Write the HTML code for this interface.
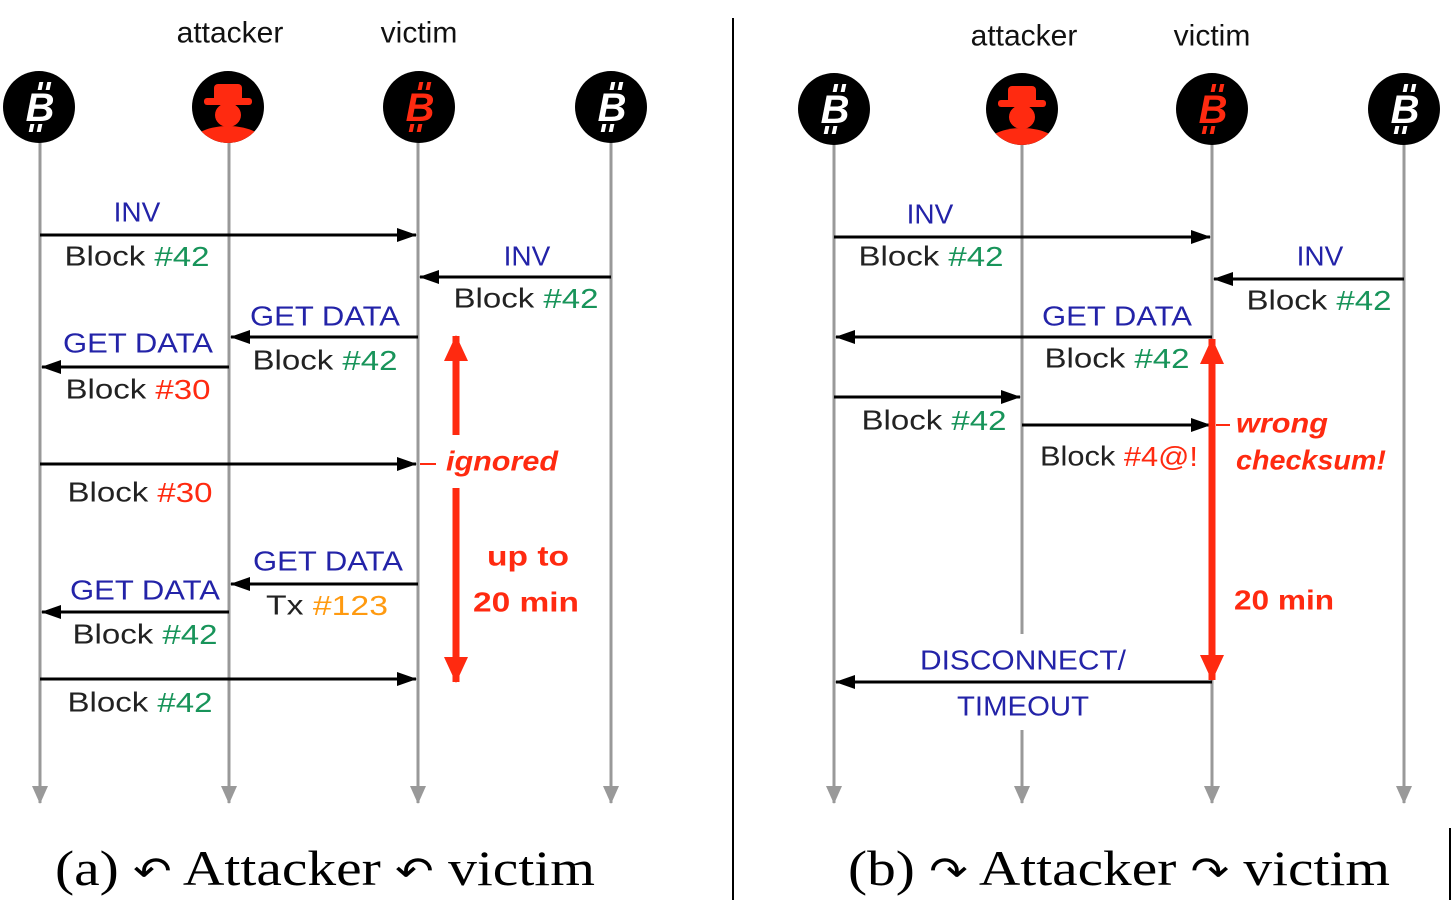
<!DOCTYPE html>
<html><head><meta charset="utf-8"><style>
html,body{margin:0;padding:0;background:#fff;}
svg{display:block;}
.t{font-family:"Liberation Sans",sans-serif;font-size:28px;dominant-baseline:central;text-anchor:middle;}
.b{fill:#2323a8}.k{fill:#222}.g{fill:#18945a}.r{fill:#ff2a10}.o{fill:#ff9a10}
.ri{font-family:"Liberation Sans",sans-serif;font-size:28px;font-style:italic;font-weight:bold;fill:#ff2a10;dominant-baseline:central;}
.rb{font-family:"Liberation Sans",sans-serif;font-size:28px;font-weight:bold;fill:#ff2a10;dominant-baseline:central;text-anchor:middle;}
.h{font-family:"Liberation Sans",sans-serif;font-size:30px;fill:#111;dominant-baseline:central;text-anchor:middle;}
.cap{font-family:"Liberation Serif",serif;font-size:50px;fill:#000;}
.ll{stroke:#999;stroke-width:3;}
.m{stroke:#000;stroke-width:3;}
</style></head><body>
<svg width="1452" height="900" viewBox="0 0 1452 900" xmlns="http://www.w3.org/2000/svg">
<defs>
<marker id="a" viewBox="0 0 20 14" refX="19" refY="7" markerWidth="20" markerHeight="14" orient="auto" markerUnits="userSpaceOnUse"><path d="M0,0 L20,7 L0,14 z" fill="#000"/></marker>
<marker id="ga" viewBox="0 0 18 16" refX="17" refY="8" markerWidth="18" markerHeight="16" orient="auto" markerUnits="userSpaceOnUse"><path d="M0,0 L18,8 L0,16 z" fill="#999"/></marker>
<marker id="ra" viewBox="0 0 26 24" refX="25" refY="12" markerWidth="26" markerHeight="24" orient="auto" markerUnits="userSpaceOnUse"><path d="M0,0 L26,12 L0,24 z" fill="#ff2a10"/></marker>
<g id="btc"><circle r="36" fill="#000"/>
<rect x="-5" y="-25" width="4" height="8" transform="skewX(-12)"/><rect x="3" y="-25" width="4" height="8" transform="skewX(-12)"/>
<rect x="-5" y="17" width="4" height="8" transform="skewX(-12)"/><rect x="3" y="17" width="4" height="8" transform="skewX(-12)"/>
<text x="1" y="14" text-anchor="middle" font-family="Liberation Sans,sans-serif" font-weight="bold" font-style="italic" font-size="40">B</text></g>
</defs>

<line x1="733" y1="18" x2="733" y2="900" stroke="#000" stroke-width="2"/>
<line x1="1450" y1="828" x2="1450" y2="900" stroke="#000" stroke-width="2"/>

<text class="h" x="230" y="33">attacker</text>
<text class="h" x="419" y="33">victim</text>
<text class="h" x="1024" y="36">attacker</text>
<text class="h" x="1212" y="36">victim</text>

<line class="ll" x1="40" y1="140" x2="40" y2="803" marker-end="url(#ga)"/>
<line class="ll" x1="229" y1="140" x2="229" y2="803" marker-end="url(#ga)"/>
<line class="ll" x1="418" y1="140" x2="418" y2="803" marker-end="url(#ga)"/>
<line class="ll" x1="611" y1="140" x2="611" y2="803" marker-end="url(#ga)"/>
<line class="ll" x1="834" y1="140" x2="834" y2="803" marker-end="url(#ga)"/>
<line class="ll" x1="1022" y1="140" x2="1022" y2="634"/>
<line class="ll" x1="1022" y1="730" x2="1022" y2="803" marker-end="url(#ga)"/>
<line class="ll" x1="1212" y1="140" x2="1212" y2="803" marker-end="url(#ga)"/>
<line class="ll" x1="1404" y1="140" x2="1404" y2="803" marker-end="url(#ga)"/>

<g fill="#fff"><use href="#btc" x="39" y="107"/></g>
<g fill="#fff"><use href="#btc" x="611" y="107"/></g>
<g fill="#ff2a10"><use href="#btc" x="419" y="107"/></g>
<g fill="#fff"><use href="#btc" x="834" y="109"/></g>
<g fill="#fff"><use href="#btc" x="1404" y="109"/></g>
<g fill="#ff2a10"><use href="#btc" x="1212" y="109"/></g>
<g>
<circle cx="228" cy="107" r="36" fill="#000"/>
<clipPath id="cp1"><circle cx="228" cy="107" r="36"/></clipPath>
<g clip-path="url(#cp1)" fill="#ff2a10">
<rect x="214" y="84" width="28" height="18" rx="4"/>
<rect x="204" y="98" width="48" height="7" rx="3"/>
<ellipse cx="228" cy="115" rx="13" ry="12"/>
<ellipse cx="228" cy="148" rx="40" ry="22"/>
</g></g>
<g transform="translate(794,2)">
<circle cx="228" cy="107" r="36" fill="#000"/>
<g clip-path="url(#cp1)" fill="#ff2a10">
<rect x="214" y="84" width="28" height="18" rx="4"/>
<rect x="204" y="98" width="48" height="7" rx="3"/>
<ellipse cx="228" cy="115" rx="13" ry="12"/>
<ellipse cx="228" cy="148" rx="40" ry="22"/>
</g></g>

<line class="m" x1="40" y1="235" x2="416" y2="235" marker-end="url(#a)"/>
<text class="t b" x="137" y="212">INV</text>
<text class="t k" x="137" y="256" textLength="145" lengthAdjust="spacingAndGlyphs">Block <tspan class="g">#42</tspan></text>
<line class="m" x1="611" y1="277" x2="420" y2="277" marker-end="url(#a)"/>
<text class="t b" x="527" y="256">INV</text>
<text class="t k" x="526" y="298" textLength="145" lengthAdjust="spacingAndGlyphs">Block <tspan class="g">#42</tspan></text>
<line class="m" x1="418" y1="337" x2="231" y2="337" marker-end="url(#a)"/>
<text class="t b" x="325" y="316" textLength="150" lengthAdjust="spacingAndGlyphs">GET DATA</text>
<text class="t k" x="325" y="360" textLength="145" lengthAdjust="spacingAndGlyphs">Block <tspan class="g">#42</tspan></text>
<line class="m" x1="229" y1="367" x2="42" y2="367" marker-end="url(#a)"/>
<text class="t b" x="138" y="343" textLength="150" lengthAdjust="spacingAndGlyphs">GET DATA</text>
<text class="t k" x="138" y="389" textLength="145" lengthAdjust="spacingAndGlyphs">Block <tspan class="r">#30</tspan></text>
<line class="m" x1="40" y1="464" x2="416" y2="464" marker-end="url(#a)"/>
<line x1="420" y1="464" x2="436" y2="464" stroke="#ff2a10" stroke-width="2"/>
<text class="ri" x="446" y="461" textLength="112" lengthAdjust="spacingAndGlyphs">ignored</text>
<text class="t k" x="140" y="492" textLength="145" lengthAdjust="spacingAndGlyphs">Block <tspan class="r">#30</tspan></text>
<line class="m" x1="418" y1="584" x2="231" y2="584" marker-end="url(#a)"/>
<text class="t b" x="328" y="561" textLength="150" lengthAdjust="spacingAndGlyphs">GET DATA</text>
<text class="t k" x="327" y="605" textLength="122" lengthAdjust="spacingAndGlyphs">Tx <tspan class="o">#123</tspan></text>
<line class="m" x1="229" y1="612" x2="42" y2="612" marker-end="url(#a)"/>
<text class="t b" x="145" y="590" textLength="150" lengthAdjust="spacingAndGlyphs">GET DATA</text>
<text class="t k" x="145" y="634" textLength="145" lengthAdjust="spacingAndGlyphs">Block <tspan class="g">#42</tspan></text>
<line class="m" x1="40" y1="679" x2="416" y2="679" marker-end="url(#a)"/>
<text class="t k" x="140" y="702" textLength="145" lengthAdjust="spacingAndGlyphs">Block <tspan class="g">#42</tspan></text>

<line x1="456" y1="435" x2="456" y2="336" stroke="#ff2a10" stroke-width="7" marker-end="url(#ra)"/>
<line x1="456" y1="488" x2="456" y2="682" stroke="#ff2a10" stroke-width="7" marker-end="url(#ra)"/>
<text class="rb" x="528" y="556" textLength="82" lengthAdjust="spacingAndGlyphs">up to</text>
<text class="rb" x="526" y="602" textLength="106" lengthAdjust="spacingAndGlyphs">20 min</text>

<line class="m" x1="834" y1="237" x2="1210" y2="237" marker-end="url(#a)"/>
<text class="t b" x="930" y="214">INV</text>
<text class="t k" x="931" y="256" textLength="145" lengthAdjust="spacingAndGlyphs">Block <tspan class="g">#42</tspan></text>
<line class="m" x1="1404" y1="279" x2="1214" y2="279" marker-end="url(#a)"/>
<text class="t b" x="1320" y="256">INV</text>
<text class="t k" x="1319" y="300" textLength="145" lengthAdjust="spacingAndGlyphs">Block <tspan class="g">#42</tspan></text>
<line class="m" x1="1212" y1="337" x2="836" y2="337" marker-end="url(#a)"/>
<text class="t b" x="1117" y="316" textLength="150" lengthAdjust="spacingAndGlyphs">GET DATA</text>
<text class="t k" x="1117" y="358" textLength="145" lengthAdjust="spacingAndGlyphs">Block <tspan class="g">#42</tspan></text>
<line class="m" x1="834" y1="397" x2="1020" y2="397" marker-end="url(#a)"/>
<text class="t k" x="934" y="420" textLength="145" lengthAdjust="spacingAndGlyphs">Block <tspan class="g">#42</tspan></text>
<line class="m" x1="1022" y1="425" x2="1210" y2="425" marker-end="url(#a)"/>
<text class="t k" x="1119" y="456" textLength="158" lengthAdjust="spacingAndGlyphs">Block <tspan class="r">#4@!</tspan></text>
<line x1="1216" y1="425" x2="1230" y2="425" stroke="#ff2a10" stroke-width="2"/>
<text class="ri" x="1236" y="423" textLength="92" lengthAdjust="spacingAndGlyphs">wrong</text>
<text class="ri" x="1236" y="460" textLength="150" lengthAdjust="spacingAndGlyphs">checksum!</text>
<line x1="1212" y1="382" x2="1212" y2="339" stroke="#ff2a10" stroke-width="7" marker-end="url(#ra)"/>
<line x1="1212" y1="380" x2="1212" y2="680" stroke="#ff2a10" stroke-width="7" marker-end="url(#ra)"/>
<text class="rb" x="1284" y="600" textLength="100" lengthAdjust="spacingAndGlyphs">20 min</text>
<line class="m" x1="1212" y1="682" x2="836" y2="682" marker-end="url(#a)"/>
<text class="t b" x="1023" y="660" textLength="206" lengthAdjust="spacingAndGlyphs">DISCONNECT/</text>
<text class="t b" x="1023" y="706" textLength="132" lengthAdjust="spacingAndGlyphs">TIMEOUT</text>

<text class="cap" x="55" y="885" textLength="540" lengthAdjust="spacingAndGlyphs">(a) <tspan font-family="DejaVu Sans" font-size="40">↶</tspan> Attacker <tspan font-family="DejaVu Sans" font-size="40">↶</tspan> victim</text>
<text class="cap" x="848" y="885" textLength="542" lengthAdjust="spacingAndGlyphs">(b) <tspan font-family="DejaVu Sans" font-size="40">↷</tspan> Attacker <tspan font-family="DejaVu Sans" font-size="40">↷</tspan> victim</text>
</svg>
</body></html>
